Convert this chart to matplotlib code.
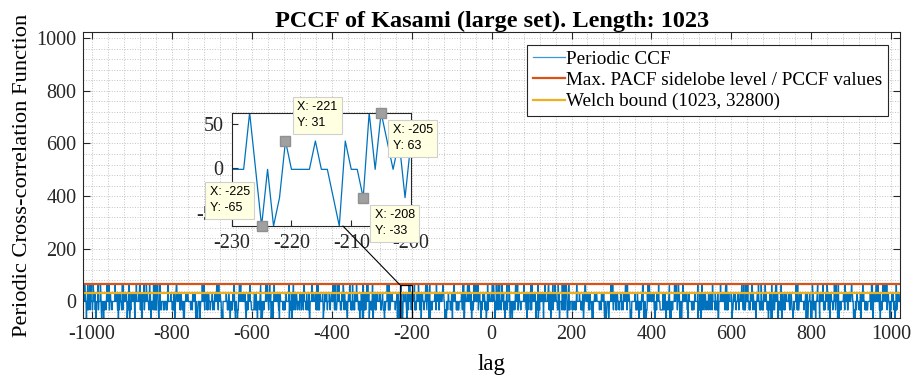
import numpy as np
import matplotlib
matplotlib.use('Agg')
import matplotlib.pyplot as plt
from matplotlib.ticker import MultipleLocator
from matplotlib.patches import Rectangle, ConnectionPatch

#=====================
# DATA
#=====================
seq_len = 1023          # Kasami length, n = 10
set_size = 32800        # large set size
max_level = 65          # max PACF sidelobe level / PCCF values
welch_bound = 31.98     # Welch bound (1023, 32800)

# CCF values (lag -230 ... -200)
inset_lags = list(range(-230, -199))
inset_values = [-1, -1, -1, 63, -1, -65, -1, -65, -33, 31,
                -1, -1, -1, -1, 31, -1, -1, -33, -65, 31,
                -1, -1, -33, 63, -1, 63, 31, -1, 31, -33, 31]

# data tips shown on the inset: lag, value, side of the box
tip_lags = [-225, -221, -205, -208]
tip_values = [-65, 31, 63, -33]
tip_sides = ['upleft', 'upright', 'downright', 'downright']

# the full PCCF between two members of the large Kasami set
# m-sequence from x^10 + x^3 + 1, decimations by 65 and 33
u = np.zeros(seq_len, dtype=int)
u[0] = 1
for k in range(10, seq_len):
    u[k] = u[k - 7] ^ u[k - 10]
idx = np.arange(seq_len)
w = u[(65 * idx) % seq_len]
v = u[(33 * idx) % seq_len]
seq_a = 1 - 2 * (u ^ np.roll(w, 100) ^ np.roll(v, 5))
seq_b = 1 - 2 * (u ^ np.roll(w, 700) ^ np.roll(v, 17))
pccf = np.array([np.dot(seq_a, np.roll(seq_b, -k)) for k in range(seq_len)])

lags = np.arange(-(seq_len - 1), seq_len)
ccf = pccf[lags % seq_len]
ccf[np.array(inset_lags) + seq_len - 1] = inset_values

#=====================
# PLOT
#=====================
plt.rcParams['font.family'] = ['Liberation Serif', 'DejaVu Serif']
plt.rcParams['axes.unicode_minus'] = False
axcol = '#262626'

fig = plt.figure(figsize=(9.14, 3.82), dpi=100)
ax = fig.add_axes([0.0911, 0.1668, 0.8935, 0.7487])

ax.plot(lags, ccf, color='#0072BD', lw=1.0, label='Periodic CCF')
ax.axhline(max_level, color='#D95319', lw=1.6,
           label='Max. PACF sidelobe level / PCCF values')
ax.axhline(welch_bound, color='#EDB120', lw=1.6,
           label='Welch bound (%d, %d)' % (seq_len, set_size))

ax.set_xlim(lags[0], lags[-1])
ax.set_ylim(min(ccf), seq_len)
ax.set_xticks(np.arange(-1000, 1001, 200))
ax.set_yticks(np.arange(0, 1001, 200))
ax.xaxis.set_minor_locator(MultipleLocator(40))
ax.yaxis.set_minor_locator(MultipleLocator(40))
ax.grid(which='both', ls=':', color='#c4c4c4', lw=0.7)
ax.set_axisbelow(True)
ax.tick_params(which='major', direction='in', top=True, right=True,
               length=5, width=0.8, labelsize=14.5, colors=axcol, pad=5)
ax.tick_params(which='minor', length=0)
for s in ax.spines.values():
    s.set_color(axcol)
    s.set_linewidth(0.8)

ax.set_title('PCCF of Kasami (large set). Length: 1023', fontsize=17.5,
             fontweight='bold', pad=4)
ax.set_xlabel('lag', fontsize=16.5, labelpad=7)
ax.set_ylabel('Periodic Cross-correlation Function', fontsize=16.2, labelpad=3)

leg = ax.legend(loc='upper right', bbox_to_anchor=(0.985, 0.957), fontsize=13.8,
                handlelength=1.67, handletextpad=0.05, labelspacing=0.2,
                borderpad=0.3, borderaxespad=0, fancybox=False, framealpha=1)
leg.get_frame().set_edgecolor(axcol)
leg.get_frame().set_linewidth(0.8)
leg.get_lines()[0].set_linewidth(0.9)
leg.get_lines()[0].set_color('#3d97d6')

# zoom box on the main axes
x0, x1 = inset_lags[0], inset_lags[-1]
y0, y1 = min(inset_values), max(inset_values)
ax.add_patch(Rectangle((x0, y0), x1 - x0, y1 - y0, fill=False,
                       ec='black', lw=0.9, zorder=4))

# inset
ax_in = fig.add_axes([0.2535, 0.4084, 0.1962, 0.2966])
ax_in.plot(lags, ccf, color='#0072BD', lw=0.9)
ax_in.set_xlim(x0, x1)
ax_in.set_ylim(y0, y1)
ax_in.set_xticks([-230, -220, -210, -200])
ax_in.set_yticks([-50, 0, 50])
ax_in.tick_params(direction='in', length=4, width=0.8, labelsize=14.5,
                  colors=axcol, top=False, right=False, pad=6)
for s in ax_in.spines.values():
    s.set_color(axcol)
    s.set_linewidth(0.8)

con = ConnectionPatch(xyA=(0.62, 0), coordsA=ax_in.transAxes,
                      xyB=(x0, y1), coordsB=ax.transData,
                      color='black', lw=0.8)
fig.add_artist(con)

# data tips
off = 8.4   # points from the marker to the text anchor
side_opts = {
    'upleft': ((-off, off), 'right', 'bottom'),
    'upright': ((off, off), 'left', 'bottom'),
    'downright': ((off, -off), 'left', 'top'),
}
for tx, ty, side in zip(tip_lags, tip_values, tip_sides):
    ax_in.plot(tx, ty, 's', color='#a0a0a0', ms=6.5, mec='#909090',
               clip_on=False, zorder=8)
    (dx, dy), ha, va = side_opts[side]
    ax_in.annotate('X: %d\nY: %d' % (tx, ty), xy=(tx, ty), xytext=(dx, dy),
                   textcoords='offset points', ha=ha, va=va, fontsize=9,
                   multialignment='left',
                   family='Liberation Sans', linespacing=1.45,
                   annotation_clip=False, zorder=10,
                   bbox=dict(boxstyle='square,pad=0.35', fc='#FFFFE1',
                             ec='#d0d0d0', lw=0.8))

fig.savefig('out.png', dpi=100)
